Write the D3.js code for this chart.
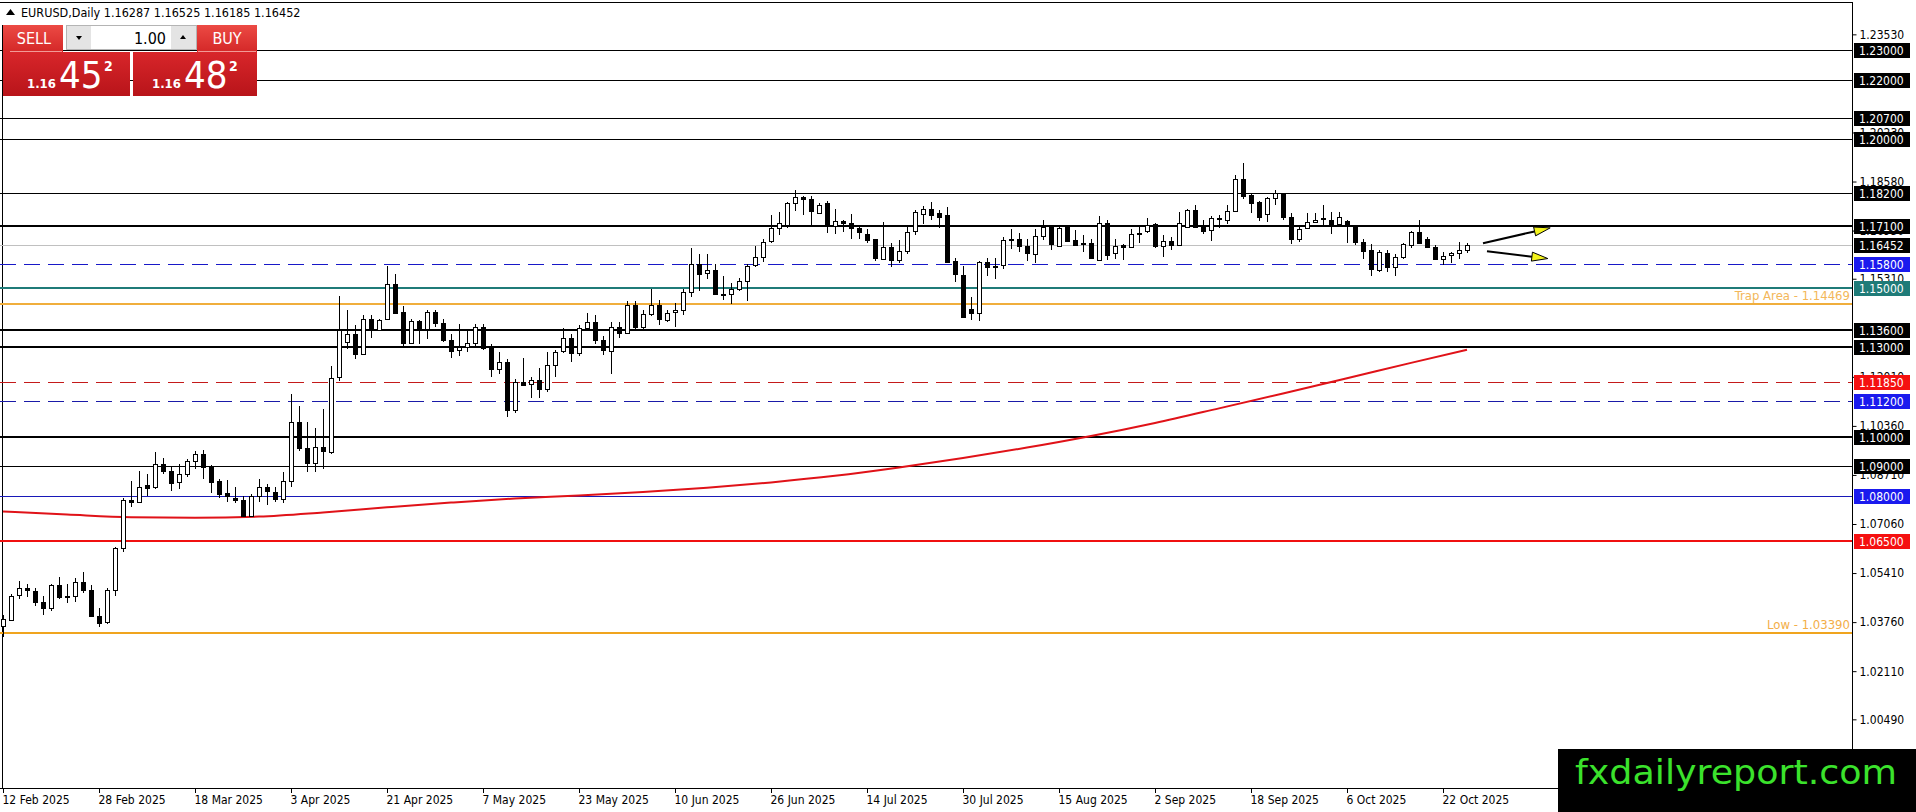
<!DOCTYPE html>
<html lang="en">
<head>
<meta charset="utf-8">
<title>EURUSD, Daily</title>
<script src="https://d3js.org/d3.v7.min.js"></script>
<style>
  body { margin: 0; background: #fff; overflow: hidden; }
  text { font-family: "DejaVu Sans Condensed", "DejaVu Sans", sans-serif; }
</style>
</head>
<body>
<script>
// ---- data ----
var opens = [
  1.0360,1.0385,1.0465,1.0490,1.0482,1.0445,1.0424,1.0500,1.0460,1.0465,
  1.0512,1.0485,1.0398,1.0375,1.0483,1.0625,1.0787,1.0779,1.0838,1.0829,
  1.0908,1.0885,1.0846,1.0874,1.0917,1.0942,1.0899,1.0852,1.0809,1.0795,
  1.0787,1.0734,1.0800,1.0830,1.0815,1.0790,1.0850,1.1048,1.0960,1.0910,
  1.0965,1.0950,1.1198,1.1318,1.1346,1.1279,1.1397,1.1360,1.1393,1.1512,
  1.1419,1.1314,1.1389,1.1363,1.1419,1.1382,1.1326,1.1290,1.1300,1.1315,
  1.1370,1.1300,1.1225,1.1250,1.1090,1.1185,1.1175,1.1190,1.1160,1.1240,
  1.1285,1.1330,1.1280,1.1365,1.1385,1.1325,1.1290,1.1370,1.1350,1.1443,
  1.1370,1.1414,1.1443,1.1395,1.1417,1.1425,1.1487,1.1582,1.1550,1.1560,
  1.1480,1.1478,1.1495,1.1522,1.1576,1.1604,1.1655,1.1700,1.1711,1.1784,
  1.1805,1.1798,1.1753,1.1786,1.1708,1.1725,1.1717,1.1702,1.1681,1.1663,
  1.1599,1.1638,1.1595,1.1625,1.1689,1.1751,1.1767,1.1751,1.1747,1.1590,
  1.1545,1.1430,1.1415,1.1587,1.1570,1.1575,1.1660,1.1665,1.1640,1.1615,
  1.1675,1.1705,1.1644,1.1711,1.1661,1.1650,1.1650,1.1597,1.1719,1.1616,
  1.1644,1.1636,1.1681,1.1692,1.1715,1.1640,1.1658,1.1644,1.1705,1.1762,
  1.1711,1.1694,1.1730,1.1730,1.1759,1.1865,1.1812,1.1790,1.1748,1.1801,
  1.1816,1.1737,1.1663,1.1703,1.1722,1.1734,1.1730,1.1715,1.1726,1.1709,
  1.1655,1.1627,1.1562,1.1616,1.1569,1.1604,1.1644,1.1688,1.1663,1.1638,
  1.1599,1.1610,1.1616,1.16287
];
var highs = [
  1.0400,1.0470,1.0513,1.0505,1.0490,1.0465,1.0505,1.0528,1.0505,1.0525,
  1.0545,1.0500,1.0425,1.0490,1.0630,1.0795,1.0852,1.0885,1.0874,1.0947,
  1.0928,1.0899,1.0908,1.0925,1.0953,1.0955,1.0905,1.0857,1.0854,1.0829,
  1.0801,1.0808,1.0858,1.0840,1.0830,1.0880,1.1144,1.1104,1.1048,1.1030,
  1.1093,1.1239,1.1472,1.1425,1.1376,1.1410,1.1408,1.1397,1.1573,1.1546,
  1.1438,1.1397,1.1393,1.1425,1.1425,1.1397,1.1345,1.1380,1.1360,1.1380,
  1.1380,1.1310,1.1285,1.1260,1.1195,1.1265,1.1200,1.1230,1.1285,1.1290,
  1.1365,1.1345,1.1375,1.1417,1.1408,1.1340,1.1385,1.1385,1.1455,1.1455,
  1.1425,1.1498,1.1458,1.1427,1.1450,1.1495,1.1633,1.1613,1.1613,1.1580,
  1.1540,1.1515,1.1535,1.1580,1.1640,1.1663,1.1745,1.1756,1.1790,1.1829,
  1.1809,1.1809,1.1786,1.1792,1.1764,1.1730,1.1748,1.1711,1.1697,1.1665,
  1.1722,1.1650,1.1660,1.1711,1.1762,1.1776,1.1790,1.1762,1.1773,1.1600,
  1.1575,1.1470,1.1590,1.1600,1.1600,1.1670,1.1698,1.1684,1.1665,1.1698,
  1.1730,1.1708,1.1708,1.1711,1.1694,1.1677,1.1663,1.1743,1.1728,1.1663,
  1.1648,1.1697,1.1711,1.1734,1.1718,1.1677,1.1672,1.1756,1.1764,1.1779,
  1.1730,1.1741,1.1745,1.1779,1.1880,1.1919,1.1818,1.1793,1.1805,1.1829,
  1.1818,1.1753,1.1711,1.1753,1.1753,1.1779,1.1756,1.1756,1.1728,1.1711,
  1.1663,1.1647,1.1627,1.1627,1.1613,1.1650,1.1691,1.1728,1.1672,1.1644,
  1.1621,1.1621,1.1655,1.16525
];
var lows = [
  1.0325,1.0380,1.0455,1.0460,1.0430,1.0400,1.0415,1.0455,1.0440,1.0445,
  1.0475,1.0395,1.0360,1.0370,1.0465,1.0612,1.0762,1.0775,1.0801,1.0825,
  1.0874,1.0818,1.0824,1.0863,1.0891,1.0857,1.0809,1.0793,1.0779,1.0775,
  1.0728,1.0733,1.0780,1.0770,1.0780,1.0775,1.0830,1.0950,1.0880,1.0880,
  1.0890,1.0940,1.1186,1.1296,1.1262,1.1276,1.1333,1.1357,1.1391,1.1414,
  1.1301,1.1310,1.1312,1.1329,1.1368,1.1318,1.1265,1.1270,1.1285,1.1300,
  1.1290,1.1200,1.1210,1.1065,1.1080,1.1170,1.1130,1.1130,1.1150,1.1200,
  1.1280,1.1250,1.1270,1.1355,1.1310,1.1275,1.1210,1.1330,1.1345,1.1355,
  1.1360,1.1404,1.1375,1.1385,1.1370,1.1410,1.1470,1.1490,1.1530,1.1475,
  1.1460,1.1447,1.1490,1.1455,1.1571,1.1587,1.1651,1.1677,1.1703,1.1759,
  1.1745,1.1711,1.1748,1.1685,1.1683,1.1689,1.1663,1.1663,1.1651,1.1591,
  1.1596,1.1570,1.1585,1.1615,1.1677,1.1714,1.1728,1.1702,1.1585,1.1520,
  1.1400,1.1392,1.1390,1.1540,1.1530,1.1565,1.1630,1.1620,1.1590,1.1585,
  1.1660,1.1627,1.1640,1.1655,1.1640,1.1621,1.1597,1.1593,1.1593,1.1599,
  1.1593,1.1633,1.1650,1.1685,1.1633,1.1604,1.1627,1.1640,1.1700,1.1702,
  1.1681,1.1658,1.1700,1.1715,1.1757,1.1800,1.1751,1.1726,1.1722,1.1779,
  1.1728,1.1647,1.1655,1.1697,1.1717,1.1711,1.1683,1.1711,1.1650,1.1644,
  1.1599,1.1539,1.1554,1.1554,1.1539,1.1599,1.1636,1.1647,1.1633,1.1596,
  1.1576,1.1584,1.1596,1.16185
];
var closes = [
  1.0385,1.0465,1.0490,1.0482,1.0445,1.0424,1.0500,1.0460,1.0465,1.0512,
  1.0485,1.0398,1.0375,1.0483,1.0625,1.0787,1.0779,1.0831,1.0829,1.0908,
  1.0883,1.0846,1.0874,1.0919,1.0942,1.0899,1.0849,1.0809,1.0798,1.0787,
  1.0734,1.0800,1.0830,1.0815,1.0790,1.0850,1.1048,1.0960,1.0910,1.0965,
  1.0950,1.1198,1.1357,1.1346,1.1279,1.1397,1.1360,1.1393,1.1512,1.1416,
  1.1314,1.1389,1.1360,1.1419,1.1382,1.1326,1.1290,1.1300,1.1315,1.1370,
  1.1300,1.1225,1.1250,1.1090,1.1185,1.1175,1.1190,1.1160,1.1240,1.1285,
  1.1330,1.1280,1.1365,1.1385,1.1325,1.1290,1.1370,1.1350,1.1443,1.1370,
  1.1414,1.1443,1.1395,1.1417,1.1425,1.1487,1.1582,1.1550,1.1560,1.1480,
  1.1478,1.1495,1.1522,1.1573,1.1604,1.1655,1.1700,1.1717,1.1786,1.1805,
  1.1798,1.1756,1.1779,1.1708,1.1725,1.1719,1.1700,1.1689,1.1661,1.1599,
  1.1638,1.1595,1.1625,1.1689,1.1754,1.1767,1.1747,1.1739,1.1590,1.1545,
  1.1405,1.1415,1.1587,1.1570,1.1575,1.1660,1.1665,1.1640,1.1615,1.1675,
  1.1704,1.1647,1.1703,1.1658,1.1644,1.1646,1.1601,1.1720,1.1613,1.1640,
  1.1636,1.1681,1.1685,1.1711,1.1640,1.1658,1.1644,1.1717,1.1762,1.1705,
  1.1692,1.1734,1.1734,1.1759,1.1865,1.1809,1.1786,1.1741,1.1801,1.1818,
  1.1737,1.1663,1.1697,1.1722,1.1730,1.1731,1.1715,1.1739,1.1717,1.1655,
  1.1625,1.1562,1.1621,1.1569,1.1604,1.1647,1.1688,1.1650,1.1636,1.1599,
  1.1608,1.1616,1.1626,1.16452
];

// moving average, read every 8th bar
var maBars   = [0, 8, 16, 24, 32, 40, 48, 56, 64, 72, 80, 88, 96, 104, 112, 120, 128, 136, 144, 152, 160, 168, 176, 183];
var maValues = [1.0748,1.0738,1.0729,1.0727,1.0731,1.0745,1.0762,1.0778,1.0792,1.0802,1.0814,1.0828,
                1.0846,1.0868,1.0896,1.0928,1.0963,1.1002,1.1046,1.1095,1.1145,1.1196,1.1248,1.1292];

// horizontal levels
var levelPrices = [1.23, 1.22, 1.207, 1.20, 1.182, 1.171, 1.158, 1.15, 1.14469, 1.136, 1.13, 1.1185, 1.112, 1.10, 1.09, 1.08, 1.065, 1.0339];
var levelNames  = ["1.23000","1.22000","1.20700","1.20000","1.18200","1.17100","1.15800","1.15000","Trap Area - 1.14469",
                   "1.13600","1.13000","1.11850","1.11200","1.10000","1.09000","1.08000","1.06500","Low - 1.03390"];

// price axis ticks that show on the scale
var tickPrices = [1.2353, 1.2023, 1.1858, 1.1693, 1.1531, 1.1201, 1.1036, 1.0871, 1.0706, 1.0541, 1.0376, 1.0211, 1.0049];

// time axis
var dateTickBars = [0, 12, 24, 36, 48, 60, 72, 84, 96, 108, 120, 132, 144, 156, 168, 180];
var dateLabels = ["12 Feb 2025","28 Feb 2025","18 Mar 2025","3 Apr 2025","21 Apr 2025","7 May 2025","23 May 2025","10 Jun 2025",
                  "26 Jun 2025","14 Jul 2025","30 Jul 2025","15 Aug 2025","2 Sep 2025","18 Sep 2025","6 Oct 2025","22 Oct 2025"];

// arrows drawn on the chart (bar, price)
var arrowFrom = [[185.0, 1.16505], [185.5, 1.16235]];
var arrowTo   = [[193.4, 1.17021], [193.1, 1.15989]];

var bid = 1.16452;

// ---- styles for the level lines (kept apart from the values) ----
var levelLook = [
  {c:'#000', w:1}, {c:'#000', w:1}, {c:'#000', w:1}, {c:'#000', w:1}, {c:'#000', w:1},
  {c:'#000', w:2},
  {c:'#1818c8', w:1, dash:'16,8', box:'#1a1aee'},
  {c:'#1f7b78', w:2, box:'#1f7b78'},
  {c:'#f0ae3c', w:2, tag:'#f3b75a'},
  {c:'#000', w:2}, {c:'#000', w:2},
  {c:'#c41a1a', w:1, dash:'16,8', box:'#f51010'},
  {c:'#1a1aa8', w:1, dash:'16,8', box:'#1a1aee'},
  {c:'#000', w:2}, {c:'#000', w:1},
  {c:'#1818b8', w:1, box:'#1a1aee'},
  {c:'#f01010', w:2, box:'#f51010'},
  {c:'#f0a41e', w:2, tag:'#f3ae48'}
];

var W = 1916, H = 812;
var plotRight = 1852, plotBottom = 788;

var svg = d3.select('body').append('svg')
  .attr('width', W)
  .attr('height', H);

var x = d3.scaleLinear().domain([0, 183]).range([3, 1467]);
var y = d3.scaleLinear().domain([1.1, 1.2]).range([436.6, 139.3]);

// frame
svg.append('line').attr('x1', 0).attr('x2', plotRight).attr('y1', 2.5).attr('y2', 2.5)
  .attr('stroke', '#000').attr('shape-rendering', 'crispEdges');
svg.append('line').attr('x1', 2.5).attr('x2', 2.5).attr('y1', 25).attr('y2', plotBottom)
  .attr('stroke', '#000').attr('shape-rendering', 'crispEdges');

// level lines
var levels = levelPrices.map(function(p, i) { return {p: p, name: levelNames[i], look: levelLook[i]}; });

svg.append('g').selectAll('line')
  .data(levels)
  .enter()
  .append('line')
  .attr('x1', 0)
  .attr('x2', plotRight)
  .attr('y1', function(d) { return Math.round(y(d.p)); })
  .attr('y2', function(d) { return Math.round(y(d.p)); })
  .attr('stroke', function(d) { return d.look.c; })
  .attr('stroke-width', function(d) { return d.look.w; })
  .attr('stroke-dasharray', function(d) { return d.look.dash || null; })
  .attr('shape-rendering', 'crispEdges');

// bid line
svg.append('line').attr('x1', 0).attr('x2', plotRight)
  .attr('y1', Math.round(y(bid)) + 0.5).attr('y2', Math.round(y(bid)) + 0.5)
  .attr('stroke', '#c0c0c0').attr('shape-rendering', 'crispEdges');

// in-chart level texts
svg.append('g').selectAll('text')
  .data(levels.filter(function(d) { return d.look.tag; }))
  .enter()
  .append('text')
  .attr('x', plotRight - 2)
  .attr('y', function(d) { return y(d.p) - 4; })
  .attr('text-anchor', 'end')
  .attr('font-size', '13px')
  .attr('fill', function(d) { return d.look.tag; })
  .text(function(d) { return d.name; });

// moving average
var maLine = d3.line()
  .x(function(d) { return x(d[0]); })
  .y(function(d) { return y(d[1]); })
  .curve(d3.curveMonotoneX);

svg.append('path')
  .datum(maBars.map(function(b, i) { return [b, maValues[i]]; }))
  .attr('d', maLine)
  .attr('fill', 'none')
  .attr('stroke', '#e01218')
  .attr('stroke-width', 2);

// candles
var bars = opens.map(function(o, i) { return {i: i, o: o, h: highs[i], l: lows[i], c: closes[i]}; });
var cg = svg.append('g').attr('shape-rendering', 'crispEdges');

cg.selectAll('line.wick')
  .data(bars)
  .enter()
  .append('line')
  .attr('class', 'wick')
  .attr('x1', function(d) { return Math.round(x(d.i)) + 0.5; })
  .attr('x2', function(d) { return Math.round(x(d.i)) + 0.5; })
  .attr('y1', function(d) { return Math.round(y(d.h)); })
  .attr('y2', function(d) { return Math.round(y(d.l)); })
  .attr('stroke', '#000');

cg.selectAll('rect.body')
  .data(bars)
  .enter()
  .append('rect')
  .attr('class', 'body')
  .attr('x', function(d) { return Math.round(x(d.i)) - 1.5; })
  .attr('y', function(d) { return Math.round(y(Math.max(d.o, d.c))) + 0.5; })
  .attr('width', 4)
  .attr('height', function(d) { return Math.max(1, Math.round(Math.abs(y(d.o) - y(d.c)))); })
  .attr('fill', function(d) { return d.c >= d.o ? '#fff' : '#000'; })
  .attr('stroke', '#000');

// arrows
var ag = svg.append('g');
arrowFrom.forEach(function(f, k) {
  var x1 = x(f[0]), y1 = y(f[1]);
  var x2 = x(arrowTo[k][0]), y2 = y(arrowTo[k][1]);
  var dx = x2 - x1, dy = y2 - y1, len = Math.sqrt(dx * dx + dy * dy);
  var ux = dx / len, uy = dy / len;
  var bx = x2 - ux * 16, by = y2 - uy * 16;
  ag.append('line').attr('x1', x1).attr('y1', y1).attr('x2', bx).attr('y2', by)
    .attr('stroke', '#000').attr('stroke-width', 2);
  ag.append('path')
    .attr('d', 'M' + x2 + ',' + y2 + 'L' + (bx - uy * 4.5) + ',' + (by + ux * 4.5) +
               'L' + (bx + uy * 4.5) + ',' + (by - ux * 4.5) + 'Z')
    .attr('fill', '#f4f41c').attr('stroke', '#000').attr('stroke-width', 1);
});

// price axis
svg.append('line').attr('x1', plotRight + 0.5).attr('x2', plotRight + 0.5).attr('y1', 2).attr('y2', plotBottom)
  .attr('stroke', '#000').attr('shape-rendering', 'crispEdges');
svg.append('line').attr('x1', 0).attr('x2', plotRight).attr('y1', plotBottom + 0.5).attr('y2', plotBottom + 0.5)
  .attr('stroke', '#000').attr('shape-rendering', 'crispEdges');

var yAxis = d3.axisRight(y)
  .tickValues(tickPrices)
  .tickFormat(d3.format('.5f'))
  .tickSize(4)
  .tickPadding(3);

svg.append('g')
  .attr('transform', 'translate(' + (plotRight + 0.5) + ',0)')
  .call(yAxis)
  .call(function(g) {
    g.select('.domain').remove();
    g.selectAll('text').attr('font-size', '12px').attr('font-family', null).attr('fill', '#000');
    g.selectAll('line').attr('stroke', '#000');
  });

// level labels on the axis
var boxLevels = levels.filter(function(d) { return !d.look.tag; })
  .concat([{p: bid, name: bid.toFixed(5), look: {box: '#000'}}]);

var lab = svg.append('g').selectAll('g')
  .data(boxLevels)
  .enter()
  .append('g')
  .attr('transform', function(d) { return 'translate(' + (plotRight + 2) + ',' + Math.round(y(d.p)) + ')'; });

lab.append('rect')
  .attr('x', 0).attr('y', -7).attr('width', 56).attr('height', 15)
  .attr('fill', function(d) { return d.look.box || '#000'; });

lab.append('text')
  .attr('x', 5).attr('y', 4.5)
  .attr('font-size', '12px')
  .attr('fill', '#fff')
  .text(function(d) { return d.name; });

// time axis
var tg = svg.append('g').selectAll('g')
  .data(dateTickBars)
  .enter()
  .append('g')
  .attr('transform', function(d) { return 'translate(' + (Math.round(x(d)) + 0.5) + ',' + plotBottom + ')'; });

tg.append('line').attr('y1', 0).attr('y2', 5).attr('stroke', '#000');
tg.append('text')
  .attr('x', -1).attr('y', 16)
  .attr('font-size', '12px')
  .text(function(d, i) { return dateLabels[i]; });

// header
svg.append('path').attr('d', 'M6,15L10.5,9L15,15Z').attr('fill', '#000');
svg.append('text').attr('x', 21).attr('y', 17).attr('font-size', '12.5px')
  .text('EURUSD,Daily  1.16287 1.16525 1.16185 1.16452');

// one-click trading panel
var defs = svg.append('defs');
var g1 = defs.append('linearGradient').attr('id', 'btn').attr('x1', 0).attr('x2', 0).attr('y1', 0).attr('y2', 1);
g1.append('stop').attr('offset', '0%').attr('stop-color', '#ec4a44');
g1.append('stop').attr('offset', '100%').attr('stop-color', '#d42828');
var g2 = defs.append('linearGradient').attr('id', 'box').attr('x1', 0).attr('x2', 0).attr('y1', 0).attr('y2', 1);
g2.append('stop').attr('offset', '0%').attr('stop-color', '#d8262a');
g2.append('stop').attr('offset', '100%').attr('stop-color', '#b8141a');

var panel = svg.append('g');
panel.append('rect').attr('x', 3).attr('y', 25).attr('width', 60).attr('height', 27).attr('fill', 'url(#btn)');
panel.append('rect').attr('x', 197).attr('y', 25).attr('width', 60).attr('height', 27).attr('fill', 'url(#btn)');
panel.append('line').attr('x1', 10).attr('x2', 62).attr('y1', 51.5).attr('y2', 51.5).attr('stroke', '#f29a96');
panel.append('line').attr('x1', 198).attr('x2', 256).attr('y1', 51.5).attr('y2', 51.5).attr('stroke', '#f29a96');
panel.append('text').attr('x', 34).attr('y', 44).attr('text-anchor', 'middle').attr('font-size', '16px').attr('fill', '#fff').text('SELL');
panel.append('text').attr('x', 227).attr('y', 44).attr('text-anchor', 'middle').attr('font-size', '16px').attr('fill', '#fff').text('BUY');

panel.append('rect').attr('x', 66.5).attr('y', 25.5).attr('width', 130).attr('height', 24).attr('fill', '#fff').attr('stroke', '#b4b4b4');
panel.append('rect').attr('x', 67).attr('y', 26).attr('width', 24).attr('height', 23).attr('fill', '#e4e4e4');
panel.append('rect').attr('x', 171).attr('y', 26).attr('width', 25).attr('height', 23).attr('fill', '#e4e4e4');
panel.append('path').attr('d', 'M76,36L82,36L79,40Z').attr('fill', '#000');
panel.append('path').attr('d', 'M180,39L186,39L183,35Z').attr('fill', '#000');
panel.append('text').attr('x', 166).attr('y', 44).attr('text-anchor', 'end').attr('font-size', '16px').text('1.00');

panel.append('rect').attr('x', 3).attr('y', 52).attr('width', 127).attr('height', 44).attr('fill', 'url(#box)');
panel.append('rect').attr('x', 133).attr('y', 52).attr('width', 124).attr('height', 44).attr('fill', 'url(#box)');

var quotes = [{x: 27, big: '45'}, {x: 152, big: '48'}];
quotes.forEach(function(q) {
  panel.append('text').attr('x', q.x).attr('y', 88).attr('font-size', '13px').attr('font-weight', 'bold')
    .attr('fill', '#fff').text('1.16');
  panel.append('text').attr('x', q.x + 32).attr('y', 88).attr('font-size', '38px')
    .attr('fill', '#fff').text(q.big);
  panel.append('text').attr('x', q.x + 77).attr('y', 71).attr('font-size', '14px').attr('font-weight', 'bold')
    .attr('fill', '#fff').text('2');
});

// watermark
svg.append('rect').attr('x', 1558).attr('y', 749).attr('width', 358).attr('height', 63).attr('fill', '#000');
svg.append('text')
  .attr('x', 1575).attr('y', 784)
  .attr('font-family', '"Liberation Sans", Arial, sans-serif')
  .attr('font-size', '33px')
  .attr('textLength', 322)
  .attr('lengthAdjust', 'spacingAndGlyphs')
  .attr('fill', '#3be22c')
  .text('fxdailyreport.com');
</script>
</body>
</html>
